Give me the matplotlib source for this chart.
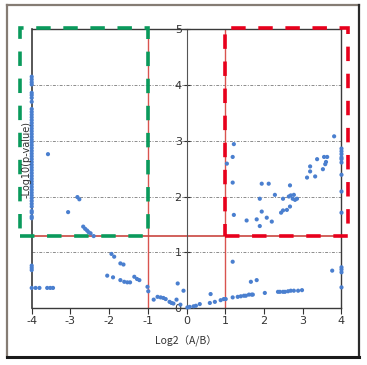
import matplotlib
matplotlib.use("Agg")
import matplotlib.pyplot as plt
from matplotlib.patches import Rectangle
from matplotlib.lines import Line2D

# ---- data ----
col_left_y = [4.15, 4.10, 4.05, 4.01, 3.86, 3.82, 3.77, 3.70, 3.57, 3.52, 3.47, 3.42,
              3.37, 3.32, 3.27, 3.22, 3.17, 3.12, 3.07, 3.02, 2.97, 2.92, 2.87, 2.82,
              2.77, 2.72, 2.67, 2.62, 2.57, 2.52, 2.47, 2.42, 2.37, 2.32, 2.27, 2.22,
              2.17, 2.12, 2.07, 2.02, 1.97, 1.92, 1.87, 1.82, 1.74, 1.71, 1.64, 1.61,
              0.76, 0.72, 0.68, 0.36]

other_x = [-3.9, -3.8, -3.6, -3.52, -3.45,
           -3.58, -2.82, -2.77, -3.06,
           -2.67, -2.62, -2.57, -2.53, -2.48, -2.40,
           -1.94, -1.87, -1.71, -1.63, -2.05, -1.90,
           -1.35, -1.28, -1.22, -1.71, -1.61, -1.53, -1.46,
           -1.01, -0.99, -0.85, -0.75, -0.67, -0.60, -0.54, -0.44, -0.39, -0.34,
           -0.26, -0.23, -0.08, -0.16, 0.02, 0.08, 0.18, 0.24, 0.34,
           0.62, 0.60, 0.73, 0.88, 0.96, 1.01,
           1.19, 1.66, 1.81, 1.19, 1.32, 1.40, 1.48, 1.53, 1.61, 1.68, 1.71,
           2.02, 2.36, 2.41, 2.49, 2.54, 2.62, 2.69, 2.77, 2.88, 2.98,
           3.76, 4.0, 4.0, 4.0, 4.0,
           3.81, 1.22, 1.19, 1.04, 1.19, 1.22, 1.55, 1.81, 1.89, 1.94, 2.07, 2.20,
           1.89, 1.94, 2.12, 2.28, 2.49, 2.67, 2.64, 2.69, 2.74, 2.77, 2.80, 2.85,
           2.44, 2.49, 2.59, 2.67, 3.11, 3.19, 3.19, 3.32, 3.37, 3.52, 3.58, 3.55,
           3.63, 3.60,
           4.0, 4.0, 4.0, 4.0, 4.0, 4.0, 4.0, 4.0, 4.0]
other_y = [0.36, 0.36, 0.36, 0.36, 0.36,
           2.76, 1.99, 1.95, 1.72,
           1.46, 1.42, 1.39, 1.36, 1.34, 1.29,
           0.97, 0.92, 0.80, 0.78, 0.58, 0.55,
           0.56, 0.52, 0.50, 0.50, 0.47, 0.46, 0.46,
           0.38, 0.30, 0.15, 0.20, 0.19, 0.18, 0.16, 0.11, 0.09, 0.08,
           0.15, 0.44, 0.31, 0.06, 0.01, 0.02, 0.03, 0.04, 0.07,
           0.25, 0.09, 0.11, 0.14, 0.16, 0.16,
           0.83, 0.47, 0.50, 0.19, 0.20, 0.21, 0.22, 0.22, 0.24, 0.24, 0.24,
           0.27, 0.29, 0.29, 0.29, 0.29, 0.30, 0.31, 0.31, 0.31, 0.32,
           0.67, 0.37, 0.73, 0.69, 0.64,
           3.08, 2.94, 2.71, 2.59, 2.25, 1.67, 1.57, 1.59, 1.47, 1.73, 1.62, 1.55,
           1.96, 2.23, 2.23, 2.03, 1.96, 2.20, 2.00, 2.02, 1.96, 2.03, 1.94, 1.96,
           1.71, 1.75, 1.76, 1.82, 2.34, 2.45, 2.54, 2.36, 2.67, 2.49, 2.58, 2.71,
           2.71, 2.62,
           2.86, 2.81, 2.76, 2.70, 2.67, 2.61, 2.39, 2.09, 1.71]

x_ticks = [-4, -3, -2, -1, 0, 1, 2, 3, 4]
y_ticks = [0, 1, 2, 3, 4, 5]
fc_cut = 1.0
p_cut = 1.3

xs = [-4.0] * len(col_left_y) + other_x
ys = col_left_y + other_y

fig = plt.figure(figsize=(3.67, 3.65), dpi=100)
ax = fig.add_axes([0.0864, 0.1562, 0.8441, 0.7635])
ax.set_xlim(-4, 4)
ax.set_ylim(0, 5)

# grid lines
for yv in [1, 2, 3, 4]:
    ax.axhline(yv, color="#8c8c8c", lw=0.7, ls=(0, (3, 1.5, 1, 1.5)), zorder=1)

# threshold lines
ax.axvline(-fc_cut, color="#d9534f", lw=1.0, zorder=2)
ax.axvline(fc_cut, color="#d9534f", lw=1.0, zorder=2)
ax.axhline(p_cut, color="#c9453f", lw=1.2, zorder=2)

ax.scatter(xs, ys, s=9, color="#4a7fcf", edgecolors="none", zorder=4, clip_on=False)

# spines
for s in ["top", "right", "bottom"]:
    ax.spines[s].set_color("#3a3a3a")
    ax.spines[s].set_linewidth(1.0)
ax.spines["left"].set_position(("data", 0))
ax.spines["left"].set_color("#555555")
ax.spines["left"].set_linewidth(0.8)
ax.axvline(-4, color="#3a3a3a", lw=1.2, clip_on=False, zorder=3)

ax.set_xticks(x_ticks)
ax.set_xticklabels([str(v) for v in x_ticks])
ax.set_yticks(y_ticks)
ax.set_yticklabels([str(v) for v in y_ticks])
ax.tick_params(axis="x", direction="out", length=4, width=0.8, labelsize=8, colors="#333333", pad=2)
ax.tick_params(axis="y", direction="inout", length=5, width=0.8, labelsize=8, colors="#333333", pad=1)

# dashed highlight boxes
ax.add_patch(Rectangle((-4.3, 1.3), 3.3, 3.73, fill=False, ec="#0a9a5c", lw=2.6,
                       ls=(0, (4, 3.5)), clip_on=False, zorder=5))
ax.add_patch(Rectangle((1.0, 1.3), 3.17, 3.73, fill=False, ec="#e8001c", lw=2.6,
                       ls=(0, (4, 3.5)), clip_on=False, zorder=5))

# labels
fig.text(27 / 367, 1 - 160 / 365, "-Log10(p-value)", rotation=90, fontsize=7,
         color="#333333", ha="center", va="center", zorder=6)
fig.text(186 / 367, 1 - 341 / 365, "Log2（A/B）", fontsize=7.5, color="#333333",
         ha="center", va="center", family=["Noto Sans CJK JP", "DejaVu Sans"])

# outer frame
fig.add_artist(Line2D([7 / 367, 7 / 367], [1 - 357 / 365, 1 - 5 / 365], color="#857c74", lw=1.6,
                      transform=fig.transFigure))
fig.add_artist(Line2D([7 / 367, 359 / 367], [1 - 5 / 365, 1 - 5 / 365], color="#857c74", lw=1.6,
                      transform=fig.transFigure))
fig.add_artist(Line2D([359 / 367, 359 / 367], [1 - 357 / 365, 1 - 5 / 365], color="#2a2a2a", lw=1.6,
                      transform=fig.transFigure))
fig.add_artist(Line2D([7 / 367, 359 / 367], [1 - 357 / 365, 1 - 357 / 365], color="#1a1a1a", lw=2.2,
                      transform=fig.transFigure))

fig.savefig("out.png", dpi=100, facecolor="white")
